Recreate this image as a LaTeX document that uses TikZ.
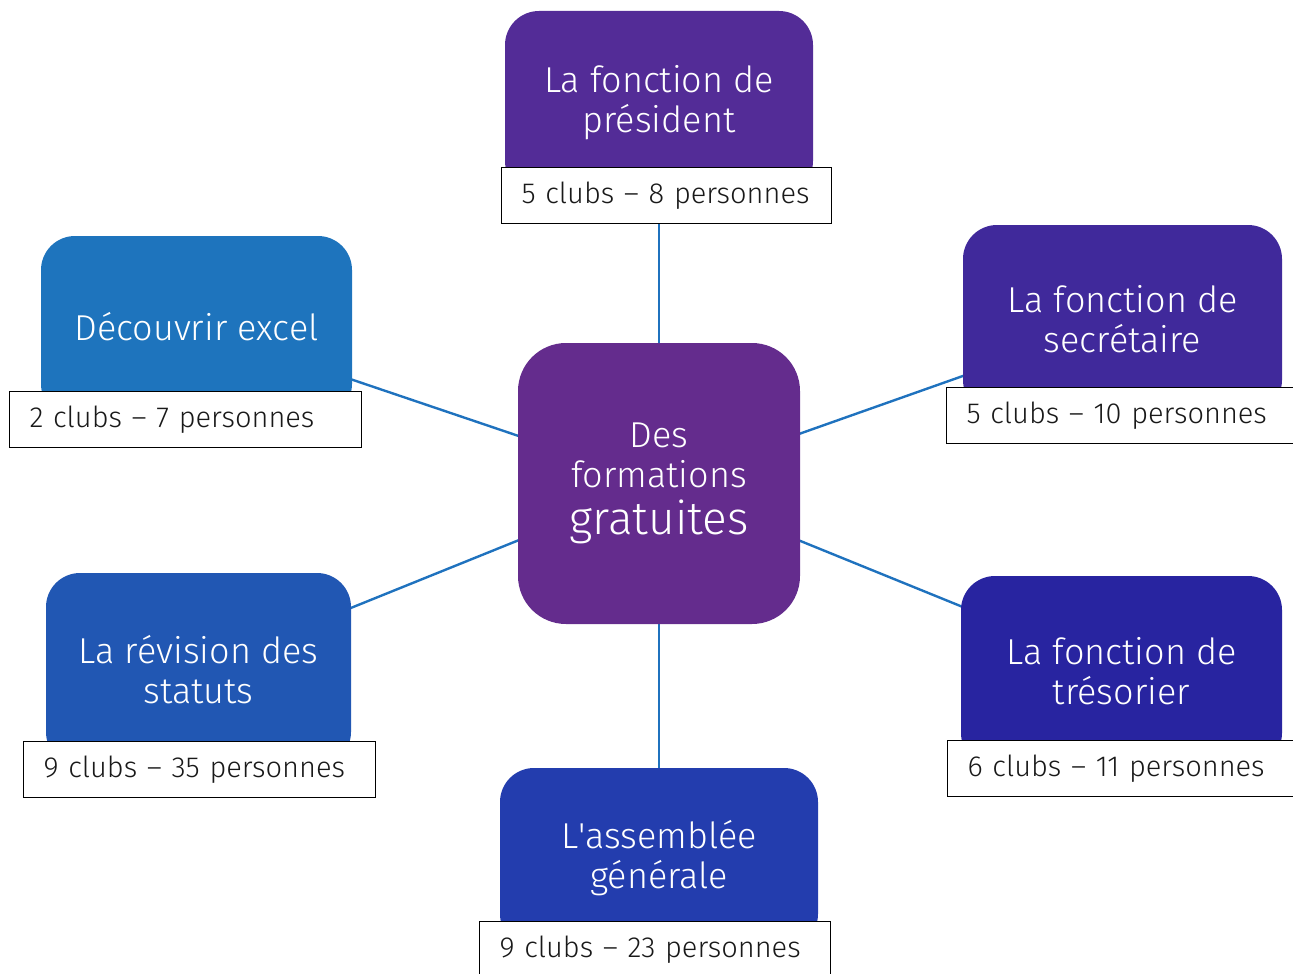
\documentclass[tikz,border=0pt]{standalone}
\usepackage{fontspec}
\setmainfont{Fira Sans Light}[BoldFont={Fira Sans}]
\usetikzlibrary{backgrounds}

\definecolor{coreclr}{HTML}{642C8D}
\definecolor{presclr}{HTML}{532C97}
\definecolor{secrclr}{HTML}{40299B}
\definecolor{tresclr}{HTML}{2824A0}
\definecolor{assemclr}{HTML}{233DAE}
\definecolor{revclr}{HTML}{2157B3}
\definecolor{excelclr}{HTML}{1E74BD}
\definecolor{linkclr}{HTML}{1F72BE}

\begin{document}
\begin{tikzpicture}[x=1pt,y=-1pt,
    topic/.style={rounded corners=34pt,text=white,align=center,inner sep=0pt,
        font=\fontsize{36}{40}\selectfont},
    tally/.style={draw=black,line width=1.2pt,fill=white,anchor=north west,
        minimum height=56pt,inner xsep=20pt,inner ysep=0pt,align=left,
        text width=312pt,text=black!90,font=\fontsize{29}{32}\selectfont},
    link/.style={draw=linkclr,line width=2.4pt}]
    \useasboundingbox (0,0) rectangle (1293,974);

    %%% CENTRE %%%
    \node[topic,fill=coreclr,rounded corners=48pt,minimum width=282pt,minimum height=281pt]
        (core) at (659,483.5) {Des\\formations\\[7pt]{\normalfont\fontsize{46}{50}\selectfont gratuites}};

    %%% TOPICS %%%
    \node[topic,fill=presclr,minimum width=308pt,minimum height=184pt] (pres) at (659,103) {La fonction de\\président};
    \node[topic,fill=secrclr,minimum width=319pt,minimum height=189pt] (secr) at (1122.5,319.5) {La fonction de\\secrétaire};
    \node[topic,fill=tresclr,minimum width=321pt,minimum height=191pt] (tres) at (1121.5,671.5) {La fonction de\\trésorier};
    \node[topic,fill=assemclr,minimum width=318pt,minimum height=180pt] (assem) at (659,858) {L\textquotesingle assemblée\\générale};
    \node[topic,fill=revclr,minimum width=305pt,minimum height=193pt] (rev) at (198.5,669.5) {La révision des\\statuts};
    \node[topic,fill=excelclr,minimum width=311pt,minimum height=182pt] (excel) at (196.5,327) {Découvrir excel};

    %%% COUNTS %%%
    \node[tally,text width=290pt] (presn) at (501,167) {5 clubs -- 8 personnes};
    \node[tally,text width=314pt] (secrn) at (946,387) {5 clubs -- 10 personnes};
    \node[tally,text width=314pt] (tresn) at (947,740) {6 clubs -- 11 personnes};
    \node[tally,text width=311pt] (assemn) at (479,921) {9 clubs -- 23 personnes};
    \node[tally] (revn) at (23,741) {9 clubs -- 35 personnes};
    \node[tally] (exceln) at (9,391) {2 clubs -- 7 personnes};

    %%% LINKS %%%
    \begin{scope}[on background layer]
        \foreach \t in {pres,secr,tres,assem,rev,excel}
            \draw[link] (core.center) -- (\t.center);
    \end{scope}
\end{tikzpicture}
\end{document}
